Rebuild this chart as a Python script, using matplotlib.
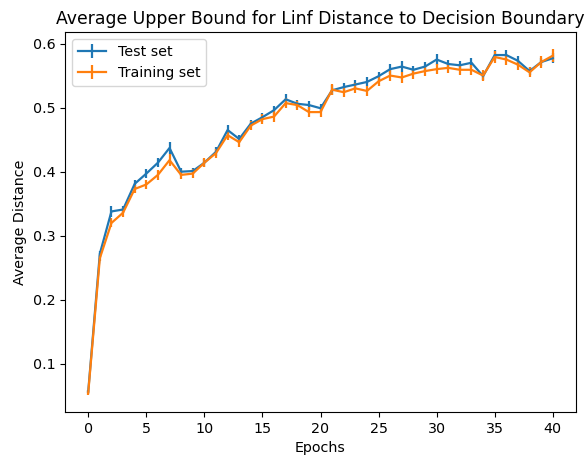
import numpy as np
import matplotlib
matplotlib.use("Agg")
import matplotlib.pyplot as plt

plt.rcParams["font.size"] = 10.3
plt.rcParams["lines.linewidth"] = 1.6

epochs = np.arange(0, 41)

test_mean = [0.057, 0.272, 0.338, 0.341, 0.381, 0.397, 0.414, 0.437, 0.400, 0.401,
             0.414, 0.431, 0.465, 0.451, 0.475, 0.485, 0.496, 0.513, 0.506, 0.504,
             0.499, 0.527, 0.532, 0.536, 0.540, 0.549, 0.560, 0.564, 0.559, 0.564,
             0.575, 0.568, 0.566, 0.570, 0.549, 0.582, 0.582, 0.573, 0.557, 0.571,
             0.577]
test_err = [0.003, 0.005, 0.008, 0.006, 0.006, 0.007, 0.007, 0.009, 0.006, 0.005,
            0.006, 0.007, 0.008, 0.006, 0.006, 0.007, 0.007, 0.008, 0.006, 0.007,
            0.006, 0.008, 0.007, 0.007, 0.007, 0.007, 0.008, 0.008, 0.006, 0.007,
            0.009, 0.007, 0.007, 0.008, 0.006, 0.008, 0.008, 0.008, 0.006, 0.006,
            0.008]

train_mean = [0.055, 0.265, 0.320, 0.336, 0.373, 0.380, 0.395, 0.418, 0.395, 0.397,
              0.414, 0.429, 0.457, 0.446, 0.472, 0.482, 0.486, 0.507, 0.504, 0.493,
              0.493, 0.528, 0.524, 0.530, 0.526, 0.541, 0.550, 0.547, 0.553, 0.557,
              0.560, 0.562, 0.559, 0.559, 0.550, 0.579, 0.575, 0.567, 0.555, 0.571,
              0.581]
train_err = [0.003, 0.005, 0.007, 0.007, 0.007, 0.007, 0.008, 0.009, 0.007, 0.007,
             0.007, 0.007, 0.008, 0.008, 0.007, 0.008, 0.008, 0.008, 0.007, 0.008,
             0.008, 0.009, 0.008, 0.008, 0.008, 0.008, 0.008, 0.008, 0.008, 0.008,
             0.008, 0.008, 0.008, 0.008, 0.008, 0.009, 0.008, 0.008, 0.008, 0.009,
             0.010]

fig = plt.figure(figsize=(5.85, 4.61), dpi=100)
ax = fig.add_axes([65/585, 1 - 412/461, (576-65)/585, (412-32)/461])

ax.errorbar(epochs, test_mean, yerr=test_err, label="Test set")
ax.errorbar(epochs, train_mean, yerr=train_err, label="Training set")

ax.set_title("Average Upper Bound for Linf Distance to Decision Boundary", fontsize=12.4)
ax.set_xlabel("Epochs")
ax.set_ylabel("Average Distance")
ax.legend(loc="upper left")

fig.savefig("out.png", dpi=100)
